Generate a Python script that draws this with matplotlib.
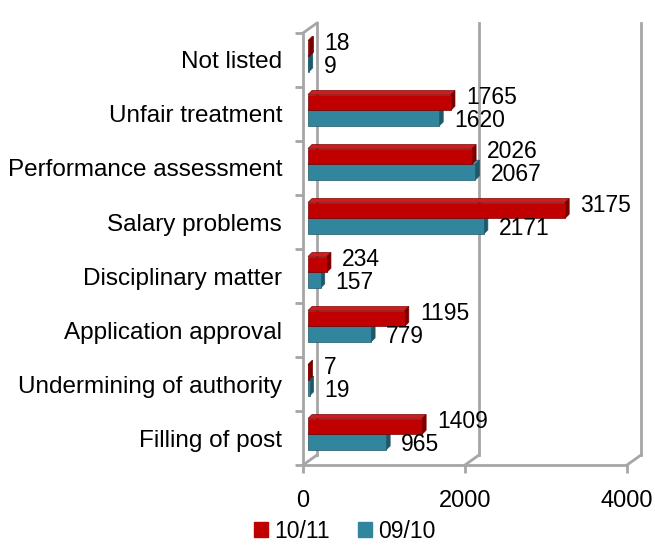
"""
3D-style clustered bar chart: complaints by category, 10/11 vs 09/10.
Writes out.png (655x546).
"""

import matplotlib
matplotlib.use("Agg")
import matplotlib.pyplot as plt
from matplotlib.patches import Polygon, Patch

# ---------------------------------------------------------------------------
# Data (bottom to top, as drawn)
# ---------------------------------------------------------------------------
categories = [
    "Filling of post",
    "Undermining of authority",
    "Application approval",
    "Disciplinary matter",
    "Salary problems",
    "Performance assessment",
    "Unfair treatment",
    "Not listed",
]
vals_1011 = [1409, 7, 1195, 234, 3175, 2026, 1765, 18]
vals_0910 = [965, 19, 779, 157, 2171, 2067, 1620, 9]
series_names = ["10/11", "09/10"]
x_ticks = [0, 2000, 4000]

# ---------------------------------------------------------------------------
# Style
# ---------------------------------------------------------------------------
RED, RED_TOP, RED_SIDE = "#C00000", "#D41A1A", "#7A0000"
TEAL, TEAL_TOP, TEAL_SIDE = "#31859C", "#4A9DB3", "#1F5868"
GRID = "#A6A6A6"
FONT = "Liberation Sans"

W, H = 655, 546
AX_L, AX_B, AX_W, AX_H = 303, 81, 324, 432      # front plane, pixels
XMAX, YMAX = 4000, len(categories)
PX_X = XMAX / AX_W                               # data units per pixel
PX_Y = YMAX / AX_H

WALL_DX, WALL_DY = 14 * PX_X, 10 * PX_Y          # back wall depth
BAR_DX, BAR_DY = 4 * PX_X, 4 * PX_Y              # bar extrusion
BAR_SHIFT = 5 * PX_X

plt.rcParams["font.family"] = [FONT, "DejaVu Sans"]

fig = plt.figure(figsize=(W / 100, H / 100), dpi=100)
ax = fig.add_axes([AX_L / W, AX_B / H, AX_W / W, AX_H / H])
ax.set_xlim(0, XMAX)
ax.set_ylim(0, YMAX)
ax.patch.set_visible(False)

# --- walls / gridlines ---
wall = dict(color=GRID, lw=2, clip_on=False, zorder=1)
for xv in x_ticks:
    ax.plot([xv + WALL_DX] * 2, [WALL_DY, YMAX + WALL_DY], **wall)
    ax.plot([xv, xv + WALL_DX], [0, WALL_DY], **wall)
ax.plot([0, WALL_DX], [YMAX, YMAX + WALL_DY], **wall)

# --- front axes ---
for side in ["top", "right"]:
    ax.spines[side].set_visible(False)
for side in ["left", "bottom"]:
    ax.spines[side].set_color(GRID)
    ax.spines[side].set_linewidth(2)

ax.set_xticks(x_ticks)
ax.set_xticklabels([str(t) for t in x_ticks], fontsize=17)
ax.tick_params(axis="x", length=6, width=2, color=GRID, pad=12)

centers = [i + 0.5 for i in range(len(categories))]
ax.set_yticks(centers)
ax.set_yticklabels(categories, fontsize=17.5)
ax.set_yticks(range(len(categories) + 1), minor=True)
ax.tick_params(axis="y", which="major", length=0, pad=15)
ax.tick_params(axis="y", which="minor", length=6, width=2, color=GRID)


def bar3d(values, bottom, height, front, top, side, label_dy):
    ys = [i + bottom for i in range(len(values))]
    ax.barh(ys, values, height=height, left=BAR_SHIFT, align="edge",
            color=front, edgecolor=side, linewidth=0.5, zorder=3)
    for v, y in zip(values, ys):
        x0, x1 = BAR_SHIFT, BAR_SHIFT + v
        yt = y + height
        ax.add_patch(Polygon([(x0, yt), (x1, yt), (x1 + BAR_DX, yt + BAR_DY),
                              (x0 + BAR_DX, yt + BAR_DY)],
                             closed=True, fc=top, ec=side, lw=0.5, zorder=2))
        ax.add_patch(Polygon([(x1, y), (x1 + BAR_DX, y + BAR_DY),
                              (x1 + BAR_DX, yt + BAR_DY), (x1, yt)],
                             closed=True, fc=side, ec=side, lw=0.5, zorder=2))
        ax.annotate(str(v), xy=(x1 + BAR_DX, y + height / 2),
                    xytext=(11, label_dy), textcoords="offset pixels",
                    ha="left", va="center", fontsize=16.5, zorder=4)


bar3d(vals_0910, 0.28, 0.29, TEAL, TEAL_TOP, TEAL_SIDE, -2)
bar3d(vals_1011, 0.57, 0.29, RED, RED_TOP, RED_SIDE, 5)

# --- legend ---
handles = [Patch(color=RED), Patch(color=TEAL)]
fig.legend(handles, series_names, loc="center", ncol=2,
           bbox_to_anchor=(345 / W, 15 / H), frameon=False, fontsize=16.5,
           handlelength=0.6, handleheight=0.6, handletextpad=0.3,
           columnspacing=1.2)

fig.savefig("out.png", dpi=100)
